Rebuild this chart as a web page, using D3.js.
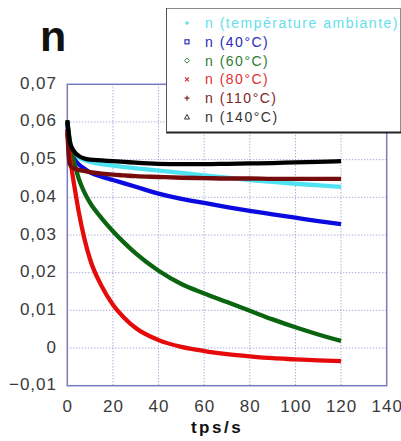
<!DOCTYPE html>
<html><head><meta charset="utf-8">
<script src="https://cdn.jsdelivr.net/npm/d3@7"></script>
<style>
html,body{margin:0;padding:0;background:#fff;}
svg{display:block;font-family:"Liberation Sans",Arial,sans-serif;}
</style></head>
<body><svg id="c" width="401" height="441"></svg>
<script>
const times = [0,0.5,1,2,3.5,5,7.5,10,15,20,25,30,40,50,60,70,80,90,100,110,120];
const seriesNames = ["n (température ambiante)","n (40°C)","n (60°C)","n (80°C)","n (110°C)","n (140°C)"];
const ambient = [.0600,.0565,.0545,.0525,.0513,.0506,.0499,.0494,.0488,.0484,.0480,.0477,.0471,.0465,.0458,.0452,.0446,.0441,.0436,.0432,.0428];
const t40 = [.0600,.0565,.0540,.0515,.0498,.0488,.0476,.0466,.0455,.0446,.0437,.0428,.0410,.0396,.0385,.0374,.0364,.0355,.0346,.0337,.0329];
const t60 = [.0600,.0578,.0555,.0520,.0482,.0450,.0413,.0385,.0345,.0310,.0279,.0251,.0205,.0170,.0145,.0122,.0099,.0076,.0055,.0036,.0019];
const t80 = [.0570,.0545,.0520,.0472,.0415,.0362,.0290,.0235,.0165,.0115,.0080,.0053,.0021,.0003,-.0008,-.0016,-.0022,-.0027,-.0030,-.0033,-.0035];
const t110 = [.0580,.0520,.0490,.0480,.0476,.0473,.0470,.0467,.0463,.0460,.0458,.0456,.0454,.0452,.0451,.0450,.0450,.0449,.0449,.0449,.0449];
const t140 = [.0605,.0575,.0550,.0532,.0518,.0510,.0503,.0500,.0498,.0496,.0494,.0492,.0489,.0488,.0488,.0489,.0490,.0491,.0493,.0494,.0496];
const xTicks = [0,20,40,60,80,100,120,140];
const yTicks = [-0.01,0,0.01,0.02,0.03,0.04,0.05,0.06,0.07];

const lineColors = ["#4fe3f2","#0b0be0","#0b640f","#e60b0b","#760b0b","#000000"];
const textColors = ["#63e0ec","#2b2bb8","#2f7d33","#dd3030","#7c2727","#333333"];
const markers = ["dot","square","diamond","cross","plus","triangle"];
const allSeries = [ambient,t40,t60,t80,t110,t140];

const svg = d3.select("#c");
const L=67.3, R=386.7, T=84.3, B=385.7;
const x = d3.scaleLinear().domain([0,140]).range([L,R]);
const y = d3.scaleLinear().domain([-0.01,0.07]).range([B,T]);

// grid
const g = svg.append("g");
g.selectAll("line.v").data(xTicks.filter(d=>d>0&&d<140)).enter().append("line")
  .attr("x1",d=>x(d)).attr("x2",d=>x(d)).attr("y1",T).attr("y2",B)
  .attr("stroke","#8a8ad0").attr("stroke-width",1).attr("stroke-dasharray","1,2");
g.selectAll("line.h").data(yTicks.filter(d=>d>-0.01+1e-9&&d<0.07-1e-9)).enter().append("line")
  .attr("y1",d=>y(d)).attr("y2",d=>y(d)).attr("x1",L).attr("x2",R)
  .attr("stroke","#8a8ad0").attr("stroke-width",1).attr("stroke-dasharray","1,2");

// frame
svg.append("rect").attr("x",L).attr("y",T).attr("width",R-L).attr("height",B-T)
  .attr("fill","none").attr("stroke","#7a7ac2").attr("stroke-width",1.5);

// axes labels
const fmt = d => d===0 ? "0" : d3.format(".2f")(d).replace(".",",");
svg.selectAll("text.yt").data(yTicks).enter().append("text")
  .attr("x",57).attr("y",d=>y(d)+4.5).attr("text-anchor","end")
  .attr("font-size",17).attr("letter-spacing",1).attr("fill","#3a3a3a").text(fmt);
svg.selectAll("text.xt").data(xTicks).enter().append("text")
  .attr("x",d=>x(d)+0.5).attr("y",412).attr("text-anchor","middle")
  .attr("font-size",17).attr("letter-spacing",1).attr("fill","#3a3a3a").text(d=>d);
svg.append("text").attr("x",217).attr("y",433).attr("text-anchor","middle")
  .attr("font-size",17).attr("font-weight","bold").attr("letter-spacing",2.5).attr("fill","#111").text("tps/s");
svg.append("text").attr("x",40).attr("y",51).attr("font-size",43).attr("font-weight","bold").attr("fill","#111").text("n");

// lines
const line = d3.line().x((d,i)=>x(times[i])).y(d=>y(d)).curve(d3.curveMonotoneX);
allSeries.forEach((s,k)=>{
  svg.append("path").attr("d",line(s)).attr("fill","none")
    .attr("stroke",lineColors[k]).attr("stroke-width",4.3).attr("stroke-linejoin","round");
});

// legend
const lg = svg.append("g");
lg.append("rect").attr("x",166.5).attr("y",8.5).attr("width",234).attr("height",124)
  .attr("fill","#fff").attr("stroke","#8c8c8c").attr("stroke-width",1);
lg.append("line").attr("x1",166).attr("x2",401).attr("y1",132.5).attr("y2",132.5)
  .attr("stroke","#222").attr("stroke-width",2);
lg.append("line").attr("x1",166.5).attr("x2",166.5).attr("y1",8).attr("y2",133)
  .attr("stroke","#555").attr("stroke-width",1);
seriesNames.forEach((nm,k)=>{
  const cy = 23 + k*18.8;
  const mx = 187, c = textColors[k];
  const m = markers[k];
  if(m==="dot") lg.append("circle").attr("cx",mx).attr("cy",cy).attr("r",1.8).attr("fill",c);
  if(m==="square") lg.append("rect").attr("x",mx-2).attr("y",cy-2).attr("width",4).attr("height",4).attr("fill","none").attr("stroke",c).attr("stroke-width",1.2);
  if(m==="diamond") lg.append("path").attr("d",`M${mx},${cy-2.5}L${mx+2.5},${cy}L${mx},${cy+2.5}L${mx-2.5},${cy}Z`).attr("fill","none").attr("stroke",c).attr("stroke-width",1);
  if(m==="cross") lg.append("path").attr("d",`M${mx-2},${cy-2}L${mx+2},${cy+2}M${mx-2},${cy+2}L${mx+2},${cy-2}`).attr("stroke",c).attr("stroke-width",1.2);
  if(m==="plus") lg.append("path").attr("d",`M${mx-2.5},${cy}L${mx+2.5},${cy}M${mx},${cy-2.5}L${mx},${cy+2.5}`).attr("stroke",c).attr("stroke-width",1.2);
  if(m==="triangle") lg.append("path").attr("d",`M${mx},${cy-2.5}L${mx+2.5},${cy+2}L${mx-2.5},${cy+2}Z`).attr("fill","none").attr("stroke",c).attr("stroke-width",1);
  lg.append("text").attr("x",205).attr("y",cy+5).attr("font-size",14).attr("letter-spacing",1.5)
    .attr("fill",c).text(nm);
});
</script></body></html>
